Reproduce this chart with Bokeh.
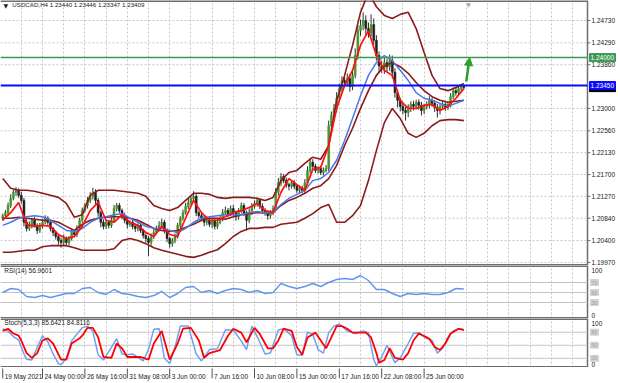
from bokeh.plotting import figure
from bokeh.models import (ColumnDataSource, FixedTicker, Label, Arrow,
                          NormalHead, Range1d, Grid)
from bokeh.layouts import column
from bokeh.embed import file_html
from bokeh.resources import INLINE
from bokeh.core.properties import value

# ---------------- data ----------------
symbol_header = "USDCAD,H4 1.23440 1.23446 1.23347 1.23409"
rsi_header = "RSI(14) 56.9601"
stoch_header = "Stoch(5,3,3) 85.6421 84.8116"

first_open = 1.2084
close = [
    1.2089, 1.2095, 1.2109, 1.2123, 1.2135, 1.2139, 1.2129, 1.2119, 1.2076, 1.2064,
    1.2070, 1.2080, 1.2070, 1.2060, 1.2070, 1.2076, 1.2084, 1.2076, 1.2064, 1.2056,
    1.2048, 1.2040, 1.2036, 1.2044, 1.2036, 1.2044, 1.2056, 1.2052, 1.2064, 1.2080,
    1.2099, 1.2109, 1.2119, 1.2127, 1.2135, 1.2119, 1.2095, 1.2076, 1.2068, 1.2076,
    1.2070, 1.2080, 1.2103, 1.2109, 1.2099, 1.2089, 1.2080, 1.2072, 1.2076, 1.2068,
    1.2064, 1.2070, 1.2060, 1.2050, 1.2044, 1.2036, 1.2048, 1.2056, 1.2064, 1.2070,
    1.2076, 1.2060, 1.2044, 1.2034, 1.2040, 1.2048, 1.2070, 1.2084, 1.2095, 1.2107,
    1.2115, 1.2123, 1.2127, 1.2095, 1.2089, 1.2084, 1.2076, 1.2080, 1.2072, 1.2080,
    1.2068, 1.2076, 1.2084, 1.2095, 1.2099, 1.2093, 1.2103, 1.2095, 1.2087, 1.2099,
    1.2109, 1.2095, 1.2080, 1.2095, 1.2107, 1.2113, 1.2119, 1.2107, 1.2099, 1.2095,
    1.2089, 1.2095, 1.2103, 1.2135, 1.2154, 1.2166, 1.2158, 1.2150, 1.2147, 1.2154,
    1.2147, 1.2139, 1.2143, 1.2139, 1.2154, 1.2178, 1.2194, 1.2186, 1.2178, 1.2182,
    1.2174, 1.2178, 1.2182, 1.2266, 1.2286, 1.2300, 1.2320, 1.2339, 1.2355, 1.2351,
    1.2359, 1.2343, 1.2365, 1.2404, 1.2453, 1.2463, 1.2473, 1.2457, 1.2449, 1.2465,
    1.2434, 1.2404, 1.2384, 1.2378, 1.2390, 1.2382, 1.2394, 1.2371, 1.2331, 1.2316,
    1.2304, 1.2296, 1.2292, 1.2300, 1.2308, 1.2304, 1.2312, 1.2306, 1.2296, 1.2304,
    1.2308, 1.2316, 1.2310, 1.2302, 1.2296, 1.2304, 1.2308, 1.2302, 1.2308, 1.2323,
    1.2335, 1.2331, 1.2339, 1.2343, 1.2341,
]
# wick lengths above / below the candle body, in pips
wick_up = [
    4, 5, 6, 8, 5, 6, 4, 7, 5, 6,
    8, 5, 6, 4, 5, 7, 6, 4, 5, 3,
    4, 5, 6, 8, 4, 5, 7, 4, 6, 5,
    6, 5, 7, 8, 9, 6, 5, 4, 6, 5,
    4, 6, 7, 5, 5, 4, 6, 5, 4, 5,
    6, 4, 5, 3, 4, 5, 6, 7, 5, 8,
    7, 5, 4, 3, 5, 6, 5, 4, 6, 7,
    8, 6, 10, 5, 4, 6, 5, 4, 6, 5,
    4, 6, 5, 7, 8, 5, 6, 7, 4, 5,
    6, 5, 4, 8, 7, 6, 5, 4, 6, 5,
    4, 5, 6, 8, 9, 7, 5, 6, 4, 5,
    5, 4, 6, 5, 7, 8, 9, 6, 5, 4,
    5, 6, 7, 10, 8, 9, 12, 10, 8, 9,
    10, 8, 12, 14, 10, 12, 16, 10, 12, 20,
    12, 10, 8, 9, 10, 8, 12, 10, 8, 6,
    5, 6, 7, 8, 6, 7, 5, 6, 7, 5,
    6, 8, 5, 6, 7, 5, 6, 4, 5, 7,
    6, 5, 6, 4, 3,
]
wick_dn = [
    5, 4, 6, 5, 4, 7, 5, 6, 8, 6,
    5, 6, 4, 7, 5, 6, 4, 5, 6, 7,
    6, 8, 10, 5, 7, 6, 4, 6, 5, 4,
    5, 4, 6, 5, 6, 7, 8, 10, 6, 5,
    6, 5, 4, 6, 5, 7, 6, 8, 5, 6,
    7, 6, 5, 6, 8, 26, 6, 5, 4, 6,
    5, 6, 7, 8, 6, 5, 4, 6, 5, 4,
    5, 4, 6, 7, 5, 6, 8, 6, 5, 7,
    6, 5, 4, 6, 5, 7, 5, 6, 8, 6,
    5, 7, 20, 6, 5, 4, 6, 5, 7, 6,
    8, 6, 5, 4, 6, 7, 5, 6, 8, 5,
    6, 5, 7, 6, 5, 4, 6, 7, 5, 6,
    5, 6, 4, 5, 7, 6, 8, 6, 7, 9,
    8, 10, 7, 6, 8, 10, 9, 12, 10, 8,
    9, 10, 12, 8, 10, 9, 8, 12, 10, 14,
    10, 8, 16, 9, 7, 8, 6, 9, 10, 7,
    6, 8, 7, 9, 14, 8, 6, 7, 5, 6,
    5, 6, 4, 5, 4,
]

# indicator readings, one every 3 bars
ind_idx = list(range(0, 175, 3))
ma_fast = [
    1.2080, 1.2095, 1.2115, 1.2072, 1.2068, 1.2070, 1.2068, 1.2052, 1.2044, 1.2048,
    1.2068, 1.2099, 1.2115, 1.2080, 1.2076, 1.2091, 1.2076, 1.2070, 1.2056, 1.2048,
    1.2068, 1.2052, 1.2048, 1.2084, 1.2119, 1.2095, 1.2080, 1.2080, 1.2087, 1.2095,
    1.2099, 1.2105, 1.2113, 1.2099, 1.2095, 1.2135, 1.2162, 1.2150, 1.2139, 1.2180,
    1.2184, 1.2227, 1.2300, 1.2345, 1.2375, 1.2424, 1.2453, 1.2404, 1.2375, 1.2365,
    1.2316, 1.2300, 1.2300, 1.2306, 1.2308, 1.2296, 1.2304, 1.2320, 1.2339,
]
ma_slow = [
    1.2070, 1.2076, 1.2084, 1.2087, 1.2089, 1.2087, 1.2080, 1.2070, 1.2060, 1.2058,
    1.2064, 1.2076, 1.2084, 1.2087, 1.2091, 1.2093, 1.2084, 1.2076, 1.2068, 1.2064,
    1.2064, 1.2060, 1.2056, 1.2064, 1.2076, 1.2084, 1.2087, 1.2089, 1.2091, 1.2091,
    1.2091, 1.2095, 1.2097, 1.2095, 1.2095, 1.2111, 1.2123, 1.2131, 1.2139, 1.2158,
    1.2162, 1.2174, 1.2198, 1.2237, 1.2280, 1.2325, 1.2365, 1.2390, 1.2404, 1.2394,
    1.2375, 1.2355, 1.2331, 1.2320, 1.2316, 1.2310, 1.2304, 1.2310, 1.2316,
]
bb_upper = [
    1.2162, 1.2143, 1.2139, 1.2139, 1.2137, 1.2133, 1.2129, 1.2125, 1.2113, 1.2086,
    1.2091, 1.2129, 1.2139, 1.2139, 1.2139, 1.2137, 1.2135, 1.2133, 1.2127, 1.2109,
    1.2103, 1.2099, 1.2105, 1.2119, 1.2133, 1.2133, 1.2131, 1.2125, 1.2123, 1.2125,
    1.2125, 1.2125, 1.2123, 1.2119, 1.2125, 1.2158, 1.2174, 1.2178, 1.2192, 1.2204,
    1.2200, 1.2227, 1.2316, 1.2365, 1.2424, 1.2489, 1.2528, 1.2500, 1.2483, 1.2477,
    1.2485, 1.2489, 1.2457, 1.2410, 1.2365, 1.2339, 1.2335, 1.2341, 1.2349,
]
bb_mid = [
    1.2084, 1.2084, 1.2086, 1.2084, 1.2082, 1.2080, 1.2080, 1.2076, 1.2068, 1.2060,
    1.2072, 1.2080, 1.2084, 1.2086, 1.2087, 1.2087, 1.2084, 1.2080, 1.2072, 1.2064,
    1.2060, 1.2058, 1.2060, 1.2066, 1.2072, 1.2080, 1.2084, 1.2084, 1.2082, 1.2087,
    1.2091, 1.2093, 1.2095, 1.2095, 1.2095, 1.2109, 1.2119, 1.2125, 1.2133, 1.2143,
    1.2148, 1.2162, 1.2188, 1.2227, 1.2261, 1.2300, 1.2335, 1.2365, 1.2384, 1.2390,
    1.2382, 1.2369, 1.2351, 1.2335, 1.2323, 1.2316, 1.2312, 1.2314, 1.2316,
]
bb_lower = [
    1.2017, 1.2017, 1.2019, 1.2021, 1.2021, 1.2028, 1.2030, 1.2030, 1.2030, 1.2026,
    1.2021, 1.2021, 1.2021, 1.2021, 1.2024, 1.2040, 1.2044, 1.2040, 1.2034, 1.2026,
    1.2021, 1.2017, 1.2013, 1.2009, 1.2007, 1.2011, 1.2017, 1.2022, 1.2034, 1.2048,
    1.2058, 1.2064, 1.2064, 1.2066, 1.2066, 1.2072, 1.2074, 1.2076, 1.2084, 1.2093,
    1.2105, 1.2111, 1.2076, 1.2076, 1.2089, 1.2109, 1.2158, 1.2217, 1.2272, 1.2300,
    1.2280, 1.2251, 1.2243, 1.2251, 1.2266, 1.2276, 1.2278, 1.2278, 1.2276,
]
rsi = [
    50, 58, 56, 42, 40, 44, 40, 44, 48, 48,
    58, 60, 50, 46, 56, 48, 46, 42, 40, 44,
    52, 40, 48, 60, 62, 50, 54, 48, 54, 58,
    56, 50, 54, 48, 50, 68, 62, 58, 62, 68,
    62, 70, 76, 78, 76, 84, 74, 56, 56, 48,
    42, 48, 46, 48, 46, 46, 50, 58, 57,
]
stoch_k_idx = [0, 2, 4, 6, 8, 9, 11, 13, 15, 17, 19, 21, 22, 24, 26, 28, 30, 32, 34, 36,
               38, 41, 43, 45, 47, 49, 51, 53, 55, 57, 59, 61, 63, 65, 67, 70, 73, 75, 78, 81,
               84, 87, 90, 92, 94, 96, 99, 101, 104, 106, 109, 111, 113, 115, 117, 119, 121, 123, 125, 127,
               130, 133, 136, 138, 140, 141, 143, 145, 147, 148, 150, 153, 155, 157, 160, 162, 164, 166, 168, 170,
               172, 174]
stoch_k = [88, 82, 70, 62, 30, 18, 16, 45, 72, 58, 30, 8, 5, 20, 60, 76, 90, 94, 82, 28,
           16, 45, 65, 30, 28, 30, 22, 14, 40, 87, 88, 20, 8, 45, 94, 94, 30, 14, 40, 42,
           85, 85, 60, 40, 94, 70, 30, 32, 85, 88, 72, 28, 27, 80, 75, 40, 32, 79, 94, 99,
           83, 77, 83, 79, 17, 3, 23, 50, 23, 10, 21, 54, 77, 79, 66, 61, 32, 43, 68, 83,
           88, 86]
stoch_d_idx = [0, 2, 4, 6, 7, 9, 11, 13, 15, 17, 19, 22, 24, 26, 29, 30, 32, 34, 36, 38,
               41, 43, 45, 47, 49, 52, 55, 57, 60, 61, 63, 66, 68, 71, 74, 76, 78, 82, 85, 87,
               90, 92, 95, 97, 100, 102, 104, 106, 109, 111, 113, 115, 118, 122, 124, 126, 128, 130, 132, 134,
               137, 139, 141, 142, 144, 146, 148, 151, 153, 155, 157, 160, 161, 163, 165, 167, 169, 172, 174]
stoch_d = [83, 88, 77, 72, 61, 32, 21, 32, 61, 66, 54, 17, 17, 54, 66, 72, 90, 90, 68, 23,
           21, 54, 43, 23, 23, 23, 17, 54, 83, 61, 17, 54, 88, 90, 61, 21, 32, 39, 72, 88,
           79, 57, 90, 76, 43, 43, 61, 88, 83, 46, 28, 68, 79, 43, 68, 94, 94, 88, 79, 79,
           79, 68, 32, 10, 16, 43, 21, 17, 32, 61, 77, 68, 65, 46, 39, 54, 77, 88, 85]

price_ticks = [1.24730, 1.24290, 1.23860, 1.23000, 1.22560, 1.22130,
               1.21700, 1.21270, 1.20840, 1.20400, 1.19970]
date_ticks = [0, 15, 31, 47, 63, 79, 95, 111, 127, 143, 159]
date_labels = ["19 May 2021", "24 May 00:00", "26 May 16:00", "31 May 08:00",
               "3 Jun 00:00", "7 Jun 16:00", "10 Jun 08:00", "15 Jun 00:00",
               "17 Jun 16:00", "22 Jun 08:00", "25 Jun 00:00"]
resistance = 1.24000
support = 1.23450
last_price = 1.23409
osc_max, osc_min = 100, 0
rsi_levels = [70, 50, 30]
stoch_levels = [80, 50, 20]
arrow_from = (174.9, 1.2353)
arrow_to = (176.2, 1.2400)
shift_marker_bar = 175.8

# ---------------- layout / styling ----------------
FONT = "Liberation Sans"
W = 620                    # page width
FRAME_W = 587              # chart area width (price scale to its right)
X_START, X_END = -0.85, 220.66
PXB = FRAME_W / (X_END - X_START)        # pixels per bar
X_FULL = X_START + W / PXB
PIP = 0.0001
GREEN = "#3a9a55"
BLUE = "#0a0aff"
BB_COL = "#8b1a1a"
GRID_COL = "#c6c6c6"
BORDER = "#6e6e6e"
TXT = "#202020"
vgrid = list(range(7, 221, 8))

MAIN_Y = (1.19910, 1.25123)
RSI_Y = (-2.0, 104.0)
STO_Y = (-1.1, 111.5)

xr = Range1d(X_START, X_FULL)


def pane(h, yr):
    p = figure(width=W, height=h, x_range=xr, y_range=Range1d(*yr),
               x_axis_location=None, y_axis_location=None,
               output_backend="svg", toolbar_location=None, min_border=0)
    p.outline_line_color = None
    p.border_fill_color = "white"
    p.background_fill_color = "white"
    for g in p.grid:
        g.visible = False
    p.add_layout(Grid(dimension=0, ticker=FixedTicker(ticks=vgrid),
                      grid_line_color=GRID_COL, grid_line_dash="2 2", grid_line_width=1))
    # pane frame: top / bottom separators and right price-scale border
    p.segment(x0=[X_START, X_START], x1=[X_END, X_END], y0=[yr[0], yr[1]], y1=[yr[0], yr[1]],
              line_color=BORDER, line_width=3)
    p.segment(x0=[X_END], x1=[X_END], y0=[yr[0]], y1=[yr[1]], line_color=BORDER, line_width=1.5)
    return p


def scale_text(p, ys, texts, baseline="middle", size="6.5px", color=TXT, off=4):
    p.text(x=X_END, y=ys, text=texts, x_offset=off, text_font=value(FONT),
           text_font_size=size, text_color=color, text_baseline=baseline, text_align="left")


def scale_box(p, ys, texts, bg, fg="white", w=26, h=8, size="6.5px", off=2):
    cx = X_END + (off + w / 2) / PXB
    p.rect(x=cx, y=ys, width=w, height=h, width_units="screen", height_units="screen",
           fill_color=bg, line_color=bg)
    scale_text(p, ys, texts, size=size, color=fg, off=off + 1)


def header(p, x, y, text, size="6.5px"):
    p.add_layout(Label(x=x, y=y, text=text, text_font=FONT, text_font_size=size,
                       text_color="#1a1a1a", text_baseline="top", text_align="left"))


# ---------------- main pane ----------------
pm = pane(265, MAIN_Y)
pm.segment(x0=X_START, x1=X_END, y0=price_ticks, y1=price_ticks,
           line_color=GRID_COL, line_dash="2 2", line_width=1)
pm.segment(x0=X_END, x1=X_END + 1.1, y0=price_ticks, y1=price_ticks,
           line_color=BORDER, line_width=1)
scale_text(pm, price_ticks, [f"{t:.5f}" for t in price_ticks])

n = len(close)
opens = [first_open] + close[:-1]
body_top = [max(o, c) for o, c in zip(opens, close)]
body_bot = [min(o, c) for o, c in zip(opens, close)]
high = [t + u * PIP for t, u in zip(body_top, wick_up)]
low = [b - d * PIP for b, d in zip(body_bot, wick_dn)]
colors = ["#47942a" if c >= o else "#1e1e1e" for o, c in zip(opens, close)]
src = ColumnDataSource(dict(i=list(range(n)), top=body_top, bot=body_bot,
                            hi=high, lo=low, col=colors))
pm.segment(x0="i", y0="lo", x1="i", y1="hi", source=src, line_color="#2e2e2e", line_width=1)
pm.vbar(x="i", width=0.7, top="top", bottom="bot", source=src,
        fill_color="col", line_color="col", line_width=0.6)

pm.line(ind_idx, bb_upper, line_color=BB_COL, line_width=1.6)
pm.line(ind_idx, bb_mid, line_color=BB_COL, line_width=1.6)
pm.line(ind_idx, bb_lower, line_color=BB_COL, line_width=1.6)
pm.line(ind_idx, ma_slow, line_color="#4a78e6", line_width=1.5)
pm.line(ind_idx, ma_fast, line_color="#ff1010", line_width=1.7)

pm.segment(x0=[X_START], x1=[X_END], y0=[resistance], y1=[resistance],
           line_color=GREEN, line_width=1.5)
pm.segment(x0=[X_START], x1=[X_END], y0=[support], y1=[support],
           line_color=BLUE, line_width=2)
pm.add_layout(Arrow(end=NormalHead(size=8, fill_color="#2f9e2f", line_color="#2f9e2f"),
                    x_start=arrow_from[0], y_start=arrow_from[1],
                    x_end=arrow_to[0], y_end=arrow_to[1],
                    line_color="#2f9e2f", line_width=2.5))

scale_box(pm, [last_price], [f"{last_price:.5f}"], "#000000")
scale_box(pm, [support], [f"{support:.5f}"], BLUE)
scale_box(pm, [resistance], [f"{resistance:.5f}"], GREEN)

pm.add_layout(Label(x=0.3, y=1.2510, text="\u25bc", text_font="DejaVu Sans",
                    text_font_size="6px", text_color="#1a1a1a", text_baseline="top"))
pm.add_layout(Label(x=shift_marker_bar, y=MAIN_Y[1], text="\u25bc", text_font="DejaVu Sans",
                    text_font_size="6px", text_color="#a8a8a8", text_baseline="top",
                    text_align="center"))
header(pm, 3.6, 1.25105, symbol_header, size="6.2px")

# ---------------- RSI pane ----------------
pr = pane(53, RSI_Y)
pr.segment(x0=X_START, x1=X_END, y0=rsi_levels, y1=rsi_levels, line_color="#c4c4c4", line_width=1)
scale_box(pr, rsi_levels, [str(v) for v in rsi_levels], "#d2d2d2", fg="#a0a0a0",
          w=8, h=6, size="5px", off=3)
scale_text(pr, [osc_max], [str(osc_max)], baseline="top")
scale_text(pr, [osc_min], [str(osc_min)], baseline="bottom")
pr.line(ind_idx, rsi, line_color="#6495ed", line_width=1.4)
header(pr, 0.6, 102.0, rsi_header)

# ---------------- Stochastic pane ----------------
ps = pane(49, STO_Y)
ps.segment(x0=X_START, x1=X_END, y0=stoch_levels, y1=stoch_levels, line_color="#c4c4c4", line_width=1)
scale_box(ps, stoch_levels, [str(v) for v in stoch_levels], "#d2d2d2", fg="#a0a0a0",
          w=8, h=6, size="5px", off=3)
scale_text(ps, [osc_max], [str(osc_max)], baseline="middle")
scale_text(ps, [osc_min], [str(osc_min)], baseline="bottom")
ps.line(stoch_k_idx, stoch_k, line_color="#6fa0f0", line_width=1.5)
ps.line(stoch_d_idx, stoch_d, line_color="#ff0000", line_width=1.8)
header(ps, 0.6, 109.5, stoch_header)

# ---------------- time scale ----------------
pt = figure(width=W, height=16, x_range=xr, y_range=Range1d(0, 1),
            x_axis_location=None, y_axis_location=None,
            output_backend="svg", toolbar_location=None, min_border=0)
pt.outline_line_color = None
for g in pt.grid:
    g.visible = False
pt.segment(x0=date_ticks, x1=date_ticks, y0=0.94, y1=0.32, line_color="#505050", line_width=1)
pt.text(x=date_ticks, y=0.44, text=date_labels, x_offset=2, text_font=value(FONT),
        text_font_size="6.5px", text_color=TXT, text_baseline="middle", text_align="left")

layout = column(pm, pr, ps, pt, spacing=0)
open("out.html", "w").write(file_html(layout, INLINE))
